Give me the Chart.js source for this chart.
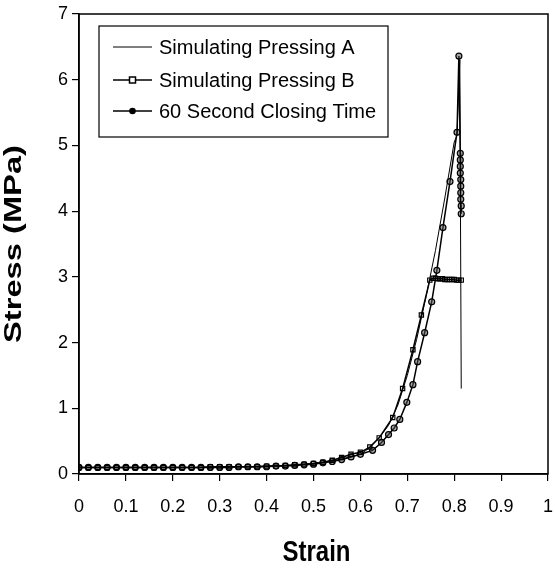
<!DOCTYPE html>
<html>
<head>
<meta charset="utf-8">
<script src="https://cdn.jsdelivr.net/npm/chart.js@4/dist/chart.umd.min.js"></script>
<style>
  html, body { margin: 0; padding: 0; background: #fff; }
  #wrap { width: 555px; height: 570px; }
</style>
</head>
<body>
<div id="wrap"><canvas id="chart" width="555" height="570"></canvas></div>
<script>
// Simulating Pressing A (thin line, no markers)
const strainA = [0, 0.05, 0.1, 0.15, 0.2, 0.25, 0.3, 0.35, 0.4, 0.45, 0.5, 0.55, 0.6, 0.62, 0.64, 0.66, 0.68, 0.7, 0.72, 0.74, 0.76, 0.78, 0.8, 0.806, 0.812, 0.815];
const stressA = [0.1, 0.1, 0.1, 0.1, 0.1, 0.1, 0.11, 0.11, 0.12, 0.13, 0.16, 0.21, 0.3, 0.4, 0.55, 0.74, 1.05, 1.5, 2.05, 2.7, 3.4, 4.2, 5.05, 5.15, 6.3, 1.3];

// Simulating Pressing B (open squares)
const strainB = [0, 0.02, 0.04, 0.06, 0.08, 0.1, 0.12, 0.14, 0.16, 0.18, 0.2, 0.22, 0.24, 0.26, 0.28, 0.3, 0.32, 0.34, 0.36, 0.38, 0.4, 0.42, 0.44, 0.46, 0.48, 0.5, 0.52, 0.54, 0.56, 0.58, 0.6, 0.62, 0.64, 0.669, 0.69, 0.712, 0.73, 0.748, 0.755, 0.76, 0.765, 0.77, 0.775, 0.78, 0.785, 0.79, 0.795, 0.8, 0.805, 0.81, 0.815];
const stressB = [0.1, 0.1, 0.1, 0.1, 0.1, 0.1, 0.1, 0.1, 0.1, 0.1, 0.1, 0.1, 0.1, 0.1, 0.11, 0.11, 0.11, 0.11, 0.11, 0.11, 0.12, 0.12, 0.13, 0.14, 0.15, 0.16, 0.18, 0.21, 0.25, 0.3, 0.33, 0.41, 0.55, 0.86, 1.3, 1.89, 2.42, 2.95, 2.98, 2.98, 2.97, 2.97, 2.97, 2.96, 2.96, 2.96, 2.96, 2.96, 2.95, 2.95, 2.95];

// 60 Second Closing Time (circles)
const strainC = [0, 0.02, 0.04, 0.06, 0.08, 0.1, 0.12, 0.14, 0.16, 0.18, 0.2, 0.22, 0.24, 0.26, 0.28, 0.3, 0.32, 0.34, 0.36, 0.38, 0.4, 0.42, 0.44, 0.46, 0.48, 0.5, 0.52, 0.54, 0.56, 0.58, 0.6, 0.626, 0.645, 0.66, 0.672, 0.684, 0.699, 0.712, 0.722, 0.737, 0.752, 0.763, 0.776, 0.791, 0.806, 0.81, 0.813, 0.813, 0.813, 0.813, 0.814, 0.814, 0.814, 0.814, 0.815, 0.815];
const stressC = [0.1, 0.1, 0.1, 0.1, 0.1, 0.1, 0.1, 0.1, 0.1, 0.1, 0.1, 0.1, 0.1, 0.1, 0.1, 0.1, 0.1, 0.11, 0.11, 0.11, 0.11, 0.12, 0.12, 0.13, 0.14, 0.15, 0.17, 0.19, 0.22, 0.26, 0.3, 0.36, 0.48, 0.6, 0.7, 0.83, 1.09, 1.36, 1.71, 2.15, 2.62, 3.1, 3.75, 4.45, 5.2, 6.36, 4.88, 4.78, 4.68, 4.58, 4.48, 4.38, 4.28, 4.18, 4.08, 3.96];

const strainTicks = [0, 0.1, 0.2, 0.3, 0.4, 0.5, 0.6, 0.7, 0.8, 0.9, 1];
const stressTicks = [0, 1, 2, 3, 4, 5, 6, 7];
const seriesNames = ['Simulating Pressing A', 'Simulating Pressing B', '60 Second Closing Time'];
const xTitle = 'Strain';
const yTitle = 'Stress (MPa)';

function toPoints(xs, ys) {
  return xs.map((x, i) => ({ x: x, y: ys[i] }));
}

const FONT = "'Liberation Sans', Arial, sans-serif";

// frame, axis titles (the scanned original has tall lettering) and legend
const framePlugin = {
  id: 'frame',
  afterDraw(chart) {
    const ctx = chart.ctx;
    const a = chart.chartArea;
    ctx.save();
    ctx.strokeStyle = '#000';
    ctx.lineWidth = 1.5;
    ctx.strokeRect(a.left, a.top, a.right - a.left, a.bottom - a.top);

    ctx.fillStyle = '#000';
    ctx.textAlign = 'center';
    ctx.textBaseline = 'middle';
    ctx.font = 'bold 23px ' + FONT;

    // y title, stretched along its length
    ctx.save();
    ctx.translate(15, (a.top + a.bottom) / 2);
    ctx.rotate(-Math.PI / 2);
    ctx.scale(1.42, 1);
    ctx.fillText(yTitle, 0, 0);
    ctx.restore();

    // x title, a little taller than wide
    ctx.save();
    ctx.translate((a.left + a.right) / 2 + 3, 553);
    ctx.scale(1, 1.2);
    ctx.font = 'bold 24px ' + FONT;
    ctx.fillText(xTitle, 0, 0);
    ctx.restore();

    // legend box
    const bx = 99, by = 26, bw = 289, bh = 111;
    ctx.fillStyle = '#fff';
    ctx.fillRect(bx, by, bw, bh);
    ctx.lineWidth = 1.2;
    ctx.strokeRect(bx, by, bw, bh);
    ctx.font = '20px ' + FONT;
    ctx.textAlign = 'left';
    const rows = [47, 80, 111];
    rows.forEach((yy, i) => {
      ctx.strokeStyle = '#000';
      ctx.lineWidth = i === 0 ? 1 : 1.5;
      ctx.beginPath();
      ctx.moveTo(113, yy);
      ctx.lineTo(152, yy);
      ctx.stroke();
      if (i === 1) {
        ctx.fillStyle = '#fff';
        ctx.fillRect(129.5, yy - 3, 6, 6);
        ctx.strokeRect(129.5, yy - 3, 6, 6);
      } else if (i === 2) {
        ctx.fillStyle = '#000';
        ctx.beginPath();
        ctx.arc(132.5, yy, 3.3, 0, Math.PI * 2);
        ctx.fill();
      }
      ctx.fillStyle = '#000';
      ctx.fillText(seriesNames[i], 159, yy + 1);
    });
    ctx.restore();
  }
};

new Chart(document.getElementById('chart'), {
  type: 'scatter',
  data: {
    datasets: [
      {
        label: seriesNames[0],
        data: toPoints(strainA, stressA),
        showLine: true,
        borderColor: '#000',
        borderWidth: 1,
        pointRadius: 0
      },
      {
        label: seriesNames[1],
        data: toPoints(strainB, stressB),
        showLine: true,
        borderColor: '#000',
        borderWidth: 1.5,
        pointStyle: 'rect',
        pointRadius: 3,
        pointBorderWidth: 1.2,
        pointBorderColor: '#000',
        pointBackgroundColor: 'rgba(255,255,255,0)'
      },
      {
        label: seriesNames[2],
        data: toPoints(strainC, stressC),
        showLine: true,
        borderColor: '#000',
        borderWidth: 1.5,
        pointStyle: 'circle',
        pointRadius: 3,
        pointBorderWidth: 1.2,
        pointBorderColor: '#000',
        pointBackgroundColor: 'rgba(80,80,80,0.5)'
      }
    ]
  },
  options: {
    responsive: false,
    animation: false,
    layout: { padding: { top: 14, right: 7, left: 0, bottom: 0 } },
    plugins: {
      legend: { display: false },
      tooltip: { enabled: false }
    },
    scales: {
      x: {
        type: 'linear',
        min: 0,
        max: 1,
        afterBuildTicks(axis) { axis.ticks = strainTicks.map(v => ({ value: v })); },
        afterFit(axis) {
          axis.height = 96;
          axis.paddingLeft = 0;
          axis.paddingRight = 0;
        },
        grid: { drawOnChartArea: false, drawTicks: true, tickLength: 7, color: '#000', lineWidth: 1.2 },
        border: { display: true, color: '#000', width: 1.5 },
        ticks: {
          color: '#000',
          font: { family: FONT, size: 18 },
          padding: 15,
          maxRotation: 0,
          callback: v => String(v)
        },
        title: { display: false }
      },
      y: {
        type: 'linear',
        min: 0,
        max: 7,
        afterBuildTicks(axis) { axis.ticks = stressTicks.map(v => ({ value: v })); },
        afterFit(axis) {
          axis.width = 79;
          axis.paddingTop = 0;
          axis.paddingBottom = 0;
        },
        grid: { drawOnChartArea: false, drawTicks: true, tickLength: 7, color: '#000', lineWidth: 1.2 },
        border: { display: true, color: '#000', width: 1.5 },
        ticks: {
          color: '#000',
          font: { family: FONT, size: 18 },
          padding: 4,
          callback: v => String(v)
        },
        title: { display: false }
      }
    }
  },
  plugins: [framePlugin]
});
</script>
</body>
</html>
